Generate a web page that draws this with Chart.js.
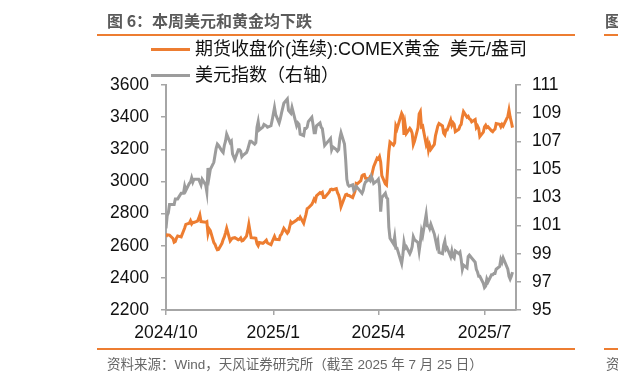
<!DOCTYPE html>
<html>
<head>
<meta charset="utf-8">
<script src="https://cdn.jsdelivr.net/npm/chart.js@4/dist/chart.umd.min.js"></script>
<style>
  html, body { margin: 0; padding: 0; background: #fff; }
  #wrap { position: relative; width: 618px; height: 384px; overflow: hidden; background: #fff; }
  #c { position: absolute; left: 0; top: 0; }
  .t { position: absolute; white-space: pre; font-family: "Liberation Sans", "Noto Sans CJK SC", sans-serif; }
  .rule { position: absolute; height: 2px; background: #ED7D31; }
  .lg { position: absolute; height: 3px; }
</style>
</head>
<body>
<div id="wrap">
  <canvas id="c" width="618" height="384"></canvas>
  <div class="t" style="left:107px; top:8px; font-size:16px; line-height:24px; color:#5b5b5b; font-weight:bold; font-family:'Noto Sans CJK SC',sans-serif;">图 6：本周美元和黄金均下跌</div>
  <div class="t" style="left:605px; top:8px; font-size:16px; line-height:24px; color:#5b5b5b; font-weight:bold; font-family:'Noto Sans CJK SC',sans-serif;">图</div>
  <div class="rule" style="left:97px; width:478px; top:34px;"></div>
  <div class="rule" style="left:604px; width:20px; top:34px;"></div>
  <div class="lg" style="left:151px; width:39px; top:48px; background:#ED7D31;"></div>
  <div class="t" id="lg1" style="left:195px; top:37px; font-size:18px; line-height:24px; color:#111;"></div>
  <div class="lg" style="left:151px; width:39px; top:74px; background:#9C9C9C;"></div>
  <div class="t" id="lg2" style="left:195px; top:63px; font-size:18px; line-height:24px; color:#111;"></div>
  <div class="rule" style="left:97px; width:478px; top:348px;"></div>
  <div class="rule" style="left:604px; width:20px; top:348px;"></div>
  <div class="t" style="left:107px; top:355px; font-size:13.5px; line-height:20px; color:#666;">资料来源：Wind，天风证券研究所（截至 2025 年 7 月 25 日）</div>
  <div class="t" style="left:606px; top:355px; font-size:13.5px; line-height:20px; color:#666;">资</div>
</div>
<script>
const seriesNames = ['期货收盘价(连续):COMEX黄金  美元/盎司', '美元指数（右轴）'];
const xTickDates = ['2024-10-01', '2025-01-01', '2025-04-01', '2025-07-01'];
const xTickLabels = ['2024/10', '2025/1', '2025/4', '2025/7'];
const leftTicks = [2200, 2400, 2600, 2800, 3000, 3200, 3400, 3600];
const rightTicks = [95, 97, 99, 101, 103, 105, 107, 109, 111];

const dates = [
'2024-10-01','2024-10-02','2024-10-03','2024-10-04','2024-10-07','2024-10-08','2024-10-09','2024-10-10','2024-10-11','2024-10-14',
'2024-10-16','2024-10-17','2024-10-18','2024-10-21','2024-10-22','2024-10-23','2024-10-24','2024-10-25','2024-10-28','2024-10-29',
'2024-10-30','2024-10-31','2024-11-01','2024-11-04','2024-11-05','2024-11-06','2024-11-07','2024-11-08','2024-11-11','2024-11-12',
'2024-11-13','2024-11-14','2024-11-15','2024-11-18','2024-11-19','2024-11-20','2024-11-21','2024-11-22','2024-11-25','2024-11-26',
'2024-11-27','2024-11-29','2024-12-02','2024-12-03','2024-12-04','2024-12-05','2024-12-06','2024-12-09','2024-12-10','2024-12-11',
'2024-12-12','2024-12-13','2024-12-16','2024-12-17','2024-12-18','2024-12-19','2024-12-20','2024-12-23','2024-12-24','2024-12-26',
'2024-12-27','2024-12-30','2024-12-31','2025-01-02','2025-01-03','2025-01-06','2025-01-07','2025-01-08','2025-01-10','2025-01-13',
'2025-01-14','2025-01-15','2025-01-16','2025-01-17','2025-01-21','2025-01-22','2025-01-23','2025-01-24','2025-01-27','2025-01-28',
'2025-01-29','2025-01-30','2025-01-31','2025-02-03','2025-02-04','2025-02-05','2025-02-06','2025-02-07','2025-02-10','2025-02-11',
'2025-02-12','2025-02-13','2025-02-14','2025-02-18','2025-02-19','2025-02-20','2025-02-21','2025-02-24','2025-02-25','2025-02-26',
'2025-02-27','2025-02-28','2025-03-03','2025-03-04','2025-03-05','2025-03-06','2025-03-07','2025-03-10','2025-03-11','2025-03-12',
'2025-03-13','2025-03-14','2025-03-17','2025-03-18','2025-03-19','2025-03-20','2025-03-21','2025-03-24','2025-03-25','2025-03-26',
'2025-03-27','2025-03-28','2025-03-31','2025-04-01','2025-04-02','2025-04-03','2025-04-04','2025-04-07','2025-04-08','2025-04-09',
'2025-04-10','2025-04-11','2025-04-14','2025-04-15','2025-04-16','2025-04-17','2025-04-21','2025-04-22','2025-04-23','2025-04-24',
'2025-04-25','2025-04-28','2025-04-29','2025-04-30','2025-05-01','2025-05-02','2025-05-05','2025-05-06','2025-05-07','2025-05-08',
'2025-05-09','2025-05-12','2025-05-13','2025-05-14','2025-05-15','2025-05-16','2025-05-19','2025-05-20','2025-05-21','2025-05-22',
'2025-05-23','2025-05-26','2025-05-27','2025-05-28','2025-05-29','2025-05-30','2025-06-02','2025-06-03','2025-06-04','2025-06-05',
'2025-06-06','2025-06-09','2025-06-10','2025-06-11','2025-06-12','2025-06-13','2025-06-16','2025-06-17','2025-06-18','2025-06-19',
'2025-06-20','2025-06-23','2025-06-24','2025-06-25','2025-06-26','2025-06-27','2025-06-30','2025-07-01','2025-07-02','2025-07-03',
'2025-07-04','2025-07-07','2025-07-08','2025-07-09','2025-07-10','2025-07-11','2025-07-14','2025-07-15','2025-07-16','2025-07-17',
'2025-07-18','2025-07-21','2025-07-22','2025-07-23','2025-07-24','2025-07-25'
];

const gold = [
2656,2668,2667,2666,2645,2622,2626,2648,2661,2655,
2692,2710,2733,2740,2755,2736,2746,2745,2753,2770,
2791,2750,2749,2746,2750,2676,2705,2694,2619,2609,
2590,2575,2577,2615,2638,2655,2680,2708,2630,2640,
2647,2650,2637,2640,2648,2630,2633,2660,2692,2733,
2690,2650,2648,2646,2612,2600,2620,2615,2620,2635,
2617,2606,2625,2658,2640,2638,2664,2672,2708,2678,
2688,2718,2748,2740,2760,2768,2765,2778,2740,2768,
2795,2830,2835,2857,2873,2890,2880,2910,2930,2925,
2932,2900,2900,2935,2950,2952,2948,2955,2930,2915,
2888,2843,2900,2917,2920,2912,2912,2900,2918,2940,
2988,2985,3005,3035,3041,3043,3020,3015,3030,3025,
3060,3092,3145,3140,3154,3121,3036,2985,2978,3080,
3185,3245,3226,3240,3345,3327,3424,3410,3290,3350,
3298,3330,3320,3300,3230,3250,3335,3420,3434,3340,
3345,3230,3250,3195,3225,3200,3230,3285,3315,3345,
3360,3345,3300,3290,3320,3320,3382,3350,3365,3355,
3310,3325,3345,3355,3400,3434,3400,3405,3390,3385,
3371,3385,3335,3345,3330,3279,3307,3340,3350,3335,
3340,3315,3310,3320,3325,3360,3355,3340,3355,3345,
3360,3405,3444,3400,3370,3335
];

const dxy = [
100.8,101.7,101.9,102.5,102.5,102.5,102.9,102.9,102.9,103.3,
103.3,103.8,103.5,104.0,104.1,104.4,104.1,104.3,104.3,104.3,
104.1,103.9,104.3,103.9,103.4,105.1,104.5,105.0,105.5,106.0,
106.5,106.8,106.7,106.3,106.2,106.7,107.0,107.5,106.9,107.0,
106.1,105.7,106.4,106.4,106.3,105.9,106.0,106.2,106.4,106.7,
107.0,107.0,106.8,106.9,108.0,108.4,107.8,108.0,108.2,108.1,
108.0,108.1,108.5,109.4,108.9,108.3,108.6,109.0,109.7,110.0,
109.2,109.1,109.0,109.4,108.1,108.3,108.2,107.5,107.4,107.9,
107.9,108.0,108.4,108.7,108.2,107.6,107.6,108.1,108.3,108.0,
107.9,107.3,106.7,107.1,107.2,106.4,106.6,106.4,106.3,106.4,
107.2,107.6,106.8,105.7,104.3,103.9,103.8,103.9,103.5,103.6,
103.8,103.7,103.4,103.3,103.5,103.9,104.1,104.3,104.2,104.5,
104.3,104.0,104.2,104.3,103.8,102.0,103.0,103.3,103.0,102.9,
100.9,100.1,99.7,100.2,99.4,99.4,98.3,98.9,99.8,99.4,
99.5,99.0,99.2,99.5,100.2,100.0,99.8,99.2,99.8,100.6,
100.3,101.8,101.0,101.0,100.8,101.1,100.4,100.0,99.6,99.9,
99.1,99.0,99.6,99.9,99.3,99.4,98.8,99.2,98.8,98.7,
99.2,99.0,99.1,98.6,97.9,98.2,98.0,98.8,98.9,98.8,
98.7,98.4,97.9,97.7,97.4,97.4,96.9,96.6,96.7,97.2,
97.0,97.5,97.5,97.6,97.6,97.9,98.1,98.6,98.4,98.7,
98.5,97.9,97.4,97.2,97.4,97.7
];

const ORIGIN = Date.UTC(2024, 9, 1);
function dayOf(s) {
  const p = s.split('-').map(Number);
  return (Date.UTC(p[0], p[1] - 1, p[2]) - ORIGIN) / 86400000;
}
const xDays = dates.map(dayOf);
const xTickDays = xTickDates.map(dayOf);

document.getElementById('lg1').textContent = seriesNames[0];
document.getElementById('lg2').textContent = seriesNames[1];

const axisColor = '#A6A6A6';
const tickFont = { family: 'Liberation Sans, Arial, sans-serif', size: 17.5 };

new Chart(document.getElementById('c'), {
  type: 'line',
  data: {
    datasets: [
      {
        label: seriesNames[0],
        data: xDays.map((d, i) => ({ x: d, y: gold[i] })),
        borderColor: '#ED7D31',
        borderWidth: 3,
        pointRadius: 0,
        tension: 0,
        yAxisID: 'y',
        order: 2
      },
      {
        label: seriesNames[1],
        data: xDays.map((d, i) => ({ x: d, y: dxy[i] })),
        borderColor: '#9C9C9C',
        borderWidth: 3,
        pointRadius: 0,
        tension: 0,
        yAxisID: 'y1',
        order: 1
      }
    ]
  },
  options: {
    responsive: false,
    animation: false,
    devicePixelRatio: 1,
    layout: { padding: { left: 100, right: 52, top: 85, bottom: 34 } },
    plugins: { legend: { display: false }, tooltip: { enabled: false }, title: { display: false } },
    scales: {
      x: {
        type: 'linear',
        min: 0,
        max: 300,
        afterBuildTicks: (s) => { s.ticks = xTickDays.map(v => ({ value: v })); },
        afterFit: (s) => { s.height = 40; },
        ticks: {
          autoSkip: false,
          maxRotation: 0,
          padding: 8,
          color: '#111',
          font: tickFont,
          callback: (v) => { const i = xTickDays.indexOf(v); return i >= 0 ? xTickLabels[i] : ''; }
        },
        grid: { display: true, drawOnChartArea: false, drawTicks: true, tickLength: 5, color: axisColor, lineWidth: 1.5 },
        border: { display: true, color: axisColor, width: 2 }
      },
      y: {
        position: 'left',
        min: leftTicks[0],
        max: leftTicks[leftTicks.length - 1],
        afterBuildTicks: (s) => { s.ticks = leftTicks.map(v => ({ value: v })); },
        afterFit: (s) => { s.width = 66; },
        ticks: { color: '#111', font: tickFont, padding: 12, callback: (v) => String(v) },
        grid: { display: true, drawOnChartArea: false, drawTicks: true, tickLength: 5, color: axisColor, lineWidth: 1.5 },
        border: { display: true, color: axisColor, width: 2 }
      },
      y1: {
        position: 'right',
        min: rightTicks[0],
        max: rightTicks[rightTicks.length - 1],
        afterBuildTicks: (s) => { s.ticks = rightTicks.map(v => ({ value: v })); },
        afterFit: (s) => { s.width = 50; },
        ticks: { color: '#111', font: tickFont, padding: 11, callback: (v) => String(v) },
        grid: { display: true, drawOnChartArea: false, drawTicks: true, tickLength: 5, color: axisColor, lineWidth: 1.5 },
        border: { display: true, color: axisColor, width: 2 }
      }
    }
  }
});
</script>
</body>
</html>
